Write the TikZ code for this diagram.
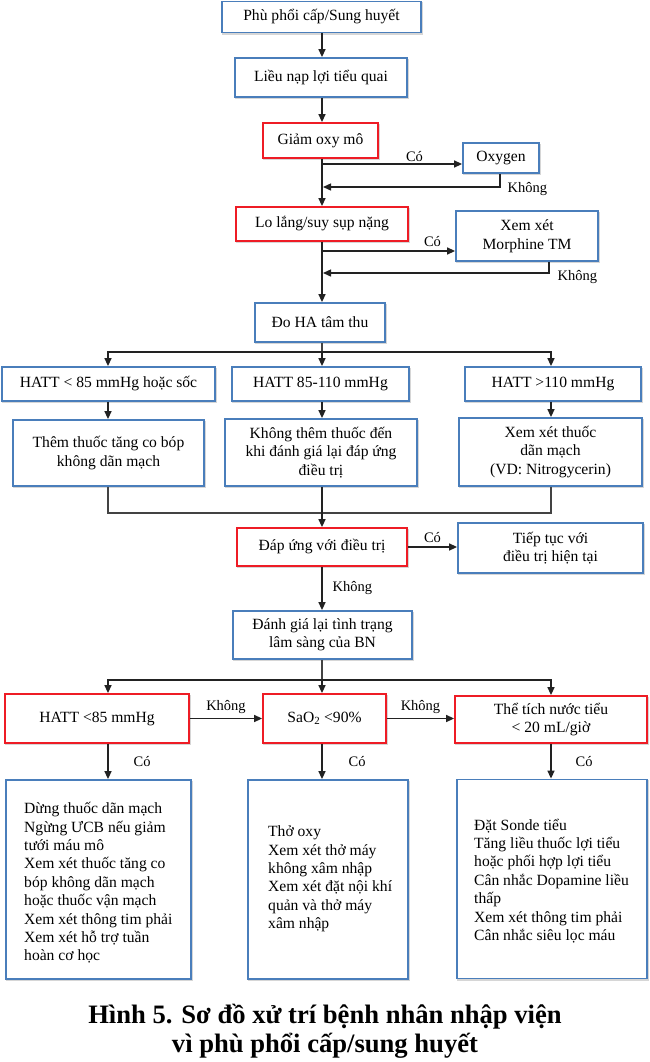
\documentclass[tikz,border=0pt]{standalone}
\usepackage{fontspec}
\setmainfont{Liberation Serif}
\usetikzlibrary{arrows.meta}
\definecolor{bx}{HTML}{4A7EBB}
\definecolor{rd}{HTML}{EE1C25}
\definecolor{ln}{HTML}{222222}
\tikzset{
  shadowline/.style={preaction={draw=black!16, line width=1.6pt, transform canvas={shift={(0.8pt,-1.6pt)}}}},
  bbox/.style={draw=bx, line width=1.8pt, fill=white, shadowline},
  rbox/.style={draw=rd, line width=1.8pt, fill=white, shadowline},
  sz/.style 2 args={minimum width=#1pt, minimum height=#2pt},
  conn/.style={draw=ln, line width=1.4pt, -{Triangle[length=8pt,width=7pt]}},
  plainline/.style={draw=ln!85, line width=1.1pt},
  lbl/.style={font=\fontsize{14.5}{16}\selectfont, inner sep=0pt},
  listtext/.style={font=\fontsize{15.6}{18.4}\selectfont, align=left, anchor=west, inner sep=0pt},
}
\begin{document}
\begin{tikzpicture}[x=1pt,y=-1pt,
  every node/.append style={font=\fontsize{15.6}{18.5}\selectfont, inner sep=0pt, align=center}]
\useasboundingbox (0,0) rectangle (650,1062);
\coordinate (ax) at (322,0);
\coordinate (lx) at (108,0);
\coordinate (rx) at (551,0);
% top chain
\node[bbox, sz={199}{31}] (n1) at (321.5,17) {Phù phổi cấp/Sung huyết};
\node[bbox, sz={172}{39}] (n2) at (321,77.5) {Liều nạp lợi tiểu quai};
\node[rbox, sz={115}{35}] (n3) at (320.5,140.5) {Giảm oxy mô};
\node[bbox, sz={76}{30}] (oxy) at (501,158) {Oxygen};
\node[rbox, sz={172}{34}] (n4) at (322,224) {Lo lắng/suy sụp nặng};
\node[bbox, sz={142}{50}] (mor) at (527,236) {Xem xét\\Morphine TM};
\node[bbox, sz={130}{39}] (n5) at (320,322.5) {Đo HA tâm thu};
% HATT row
\node[bbox, sz={213}{34}] (h1) at (108.5,384) {HATT < 85 mmHg hoặc sốc};
\node[bbox, sz={177}{34}] (h2) at (320.5,384) {HATT 85-110 mmHg};
\node[bbox, sz={176}{34}] (h3) at (553,384) {HATT >110 mmHg};
\node[bbox, sz={191}{66}] (t1) at (108.5,453) {Thêm thuốc tăng co bóp\\không dãn mạch};
\node[bbox, sz={192}{67}] (t2) at (321,452.5) {Không thêm thuốc đến\\khi đánh giá lại đáp ứng\\điều trị};
\node[bbox, sz={183}{68}] (t3) at (550.5,452) {Xem xét thuốc\\dãn mạch\\(VD: Nitrogycerin)};
\node[rbox, sz={170}{38}] (n6) at (322,547) {Đáp ứng với điều trị};
\node[bbox, sz={185}{50}] (tiep) at (550.5,548) {Tiếp tục với\\điều trị hiện tại};
\node[bbox, sz={179}{48}] (n7) at (322.5,635) {Đánh giá lại tình trạng\\lâm sàng của BN};
% criteria row
\node[rbox, sz={184}{49}] (c1) at (97,718.5) {HATT <85 mmHg};
\node[rbox, sz={123}{49}] (c2) at (324.5,718.5) {SaO\textsubscript{2} <90\%};
\node[rbox, sz={192}{47}] (c3) at (551,719.5) {Thể tích nước tiểu\\< 20 mL/giờ};
% action boxes
\node[bbox, sz={185}{199}] (d1) at (98.5,879.5) {};
\node[bbox, sz={160}{199}] (d2) at (328,879.5) {};
\node[bbox, sz={190}{199}] (d3) at (552,879) {};
\node[listtext] (d1t) at (24,883) {Dừng thuốc dãn mạch\\Ngừng ƯCB nếu giảm\\tưới máu mô\\Xem xét thuốc tăng co\\bóp không dãn mạch\\hoặc thuốc vận mạch\\Xem xét thông tim phải\\Xem xét hỗ trợ tuần\\hoàn cơ học};
\node[listtext] (d2t) at (268,879) {Thở oxy\\Xem xét thở máy\\không xâm nhập\\Xem xét đặt nội khí\\quản và thở máy\\xâm nhập};
\node[listtext] (d3t) at (474,881) {Đặt Sonde tiểu\\Tăng liều thuốc lợi tiểu\\hoặc phối hợp lợi tiểu\\Cân nhắc Dopamine liều\\thấp\\Xem xét thông tim phải\\Cân nhắc siêu lọc máu};
% caption
\node[font=\bfseries\fontsize{26.6}{29}\selectfont] (cap) at (325,1031) {Hình 5. Sơ đồ xử trí bệnh nhân nhập viện\\vì phù phổi cấp/sung huyết};

% connectors: top chain
\draw[conn] (n1.south -| ax) -- (n2.north -| ax);
\draw[conn] (n2.south -| ax) -- (n3.north -| ax);
\draw[conn] (n3.south -| ax) -- (n4.north -| ax);
\coordinate (oy) at (322,164);
\draw[conn] (oy) -- (oy -| oxy.west) node[lbl, pos=0.66, above=1.5pt] {Có};
\coordinate (ory) at (323,187);
\draw[conn] ([xshift=-1pt]oxy.south) |- (ory) node[lbl, pos=0.5, anchor=west, xshift=7pt, yshift=-2pt] {Không};
\draw[conn] (n4.south -| ax) -- (n5.north -| ax);
\coordinate (my) at (322,251);
\draw[conn] (my) -- (my -| mor.west) node[lbl, pos=0.83, above=4pt] {Có};
\coordinate (mry) at (323,273);
\draw[conn] ([xshift=22pt]mor.south) |- (mry) node[lbl, pos=0.5, anchor=west, xshift=8pt, yshift=-4pt] {Không};
% distribution 1
\coordinate (s1) at (322,352);
\draw[plainline] (n5.south -| ax) -- (s1);
\draw[conn] (s1) -| (h1.north -| lx);
\draw[conn] (s1) -- (h2.north -| ax);
\draw[conn] (s1) -| (h3.north -| rx);
\draw[conn] (h1.south -| lx) -- (t1.north -| lx);
\draw[conn] (h2.south -| ax) -- (t2.north -| ax);
\draw[conn] (h3.south -| rx) -- (t3.north -| rx);
% merge
\coordinate (m1) at (322,513);
\draw[plainline] (t1.south -| lx) |- (m1);
\draw[plainline] (t3.south -| rx) |- (m1);
\draw[conn] (t2.south -| ax) -- (n6.north -| ax);
\draw[conn] (n6.east) -- (n6.east -| tiep.west) node[lbl, midway, above=4pt] {Có};
\draw[conn] (n6.south -| ax) -- (n7.north -| ax) node[lbl, midway, right=10pt] {Không};
% distribution 2
\coordinate (s2) at (322,680);
\draw[plainline] (n7.south -| ax) -- (s2);
\draw[conn] (s2) -| (c1.north -| lx);
\draw[conn] (s2) -- (c2.north -| ax);
\draw[conn] (s2) -| (c3.north -| rx);
\draw[conn] (c1.east) -- (c1.east -| c2.west) node[lbl, midway, above=4pt] {Không};
\draw[conn] (c2.east) -- (c2.east -| c3.west) node[lbl, midway, above=4pt] {Không};
\draw[conn] (c1.south -| lx) -- (d1.north -| lx) node[lbl, midway, right=25pt] {Có};
\draw[conn] (c2.south -| ax) -- (d2.north -| ax) node[lbl, midway, right=26pt] {Có};
\draw[conn] (c3.south -| rx) -- (d3.north -| rx) node[lbl, midway, right=24pt] {Có};
\end{tikzpicture}
\end{document}
